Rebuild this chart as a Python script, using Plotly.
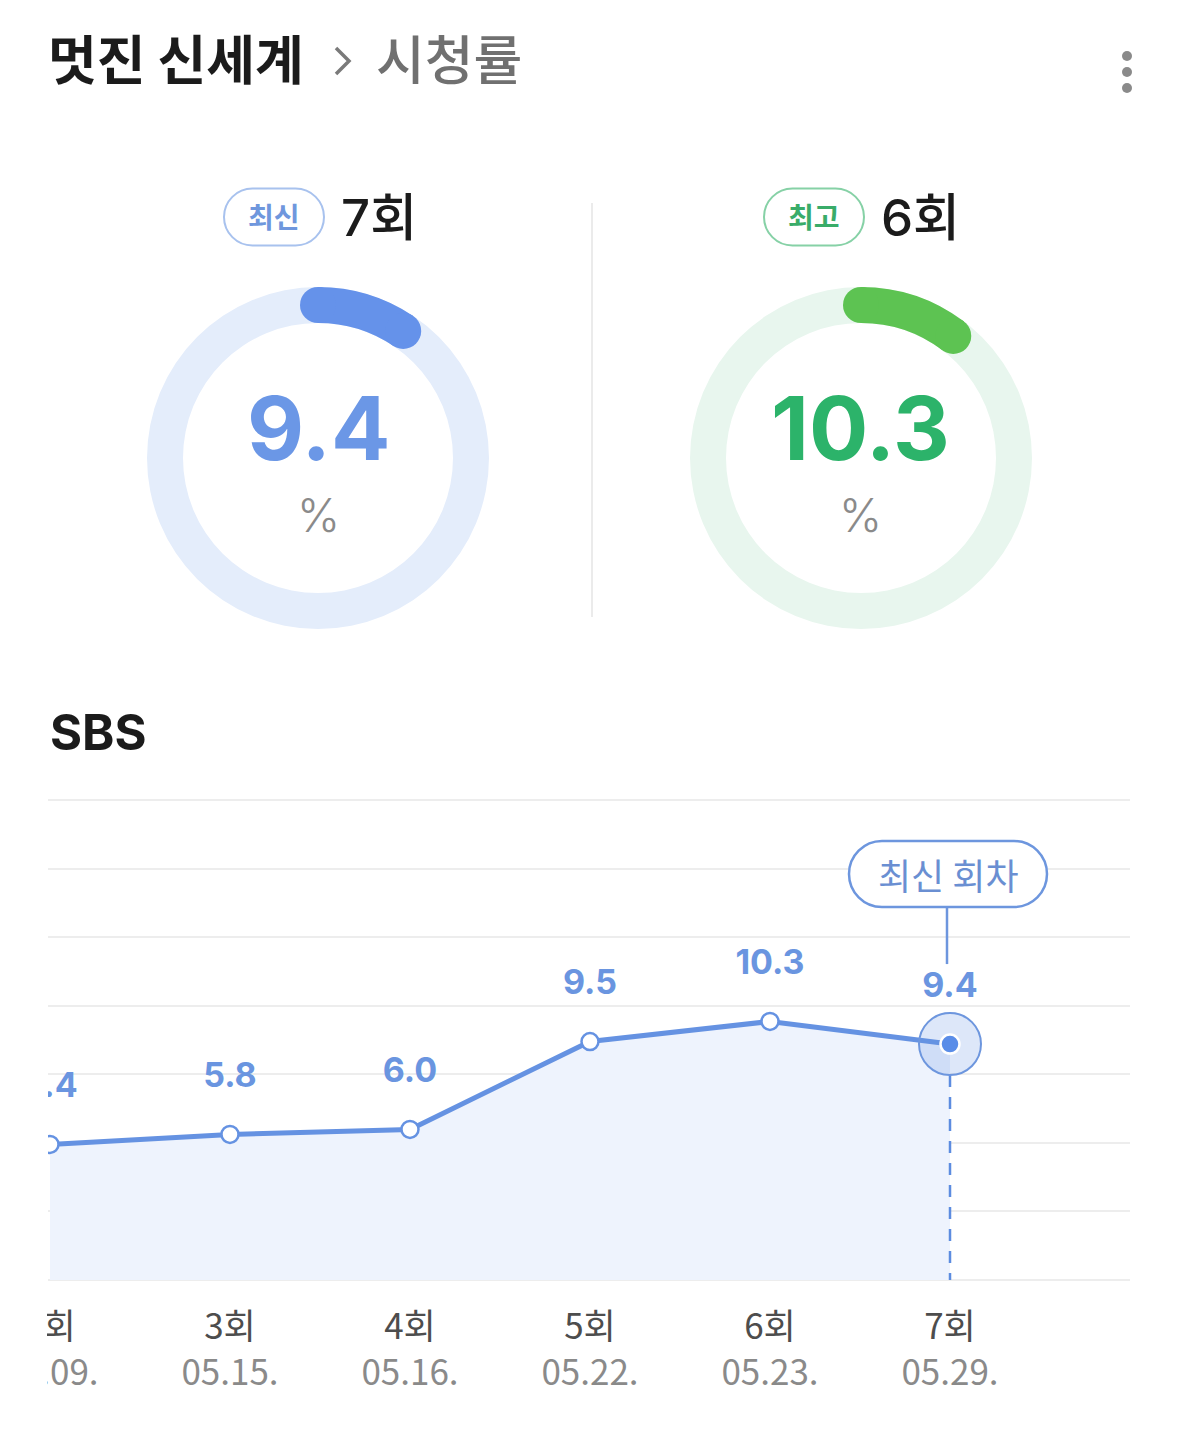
import plotly.graph_objects as go

W, H = 1179, 1438

# ---------------- data ----------------
episodes = [2, 3, 4, 5, 6, 7]
episode_labels = ["2회", "3회", "4회", "5회", "6회", "7회"]
air_dates = ["05.09.", "05.15.", "05.16.", "05.22.", "05.23.", "05.29."]
ratings = [5.4, 5.8, 6.0, 9.5, 10.3, 9.4]

title_main = "멋진 신세계"
title_sub = "시청률"
channel = "SBS"
badge_latest = "최신"
badge_best = "최고"
callout_text = "최신 회차"

latest_idx = len(ratings) - 1
best_idx = ratings.index(max(ratings))

# ---------------- style ----------------
KR = "Noto Sans CJK KR"
NUM = "Inter, Noto Sans CJK KR"
BLUE = "#6592E2"
BLUE_TXT = "#6A95E0"
BLUE_ARC = "#6592EA"
BLUE_RING = "#E4EDFB"
GREEN_TXT = "#2CB36A"
GREEN_ARC = "#5DC352"
GREEN_RING = "#E8F6EE"


def px(x):
    return x / W


def py(y):
    return 1 - y / H


def pill_path(cx, cy, w, h):
    """rounded pill path, pixel offsets (y up)"""
    r = h / 2
    k = 0.5523 * r
    xl, xr = cx - w / 2 + r, cx + w / 2 - r
    yt, yb = cy + r, cy - r
    return (f"M{xl},{yt} L{xr},{yt} "
            f"C{xr + k},{yt} {xr + r},{cy + k} {xr + r},{cy} "
            f"C{xr + r},{cy - k} {xr + k},{yb} {xr},{yb} "
            f"L{xl},{yb} "
            f"C{xl - k},{yb} {xl - r},{cy - k} {xl - r},{cy} "
            f"C{xl - r},{cy + k} {xl - k},{yt} {xl},{yt} Z")


fig = go.Figure()

# ---------------- gauges ----------------
RING_IN, RING_W = 0.75, 0.20
RING_MID = RING_IN + RING_W / 2
for sub, val, ring_c, arc_c in [("polar", ratings[latest_idx], BLUE_RING, BLUE_ARC),
                                ("polar2", ratings[best_idx], GREEN_RING, GREEN_ARC)]:
    ang = val * 3.6
    fig.add_trace(go.Barpolar(r=[RING_W], base=[RING_IN], theta=[180], width=[360],
                              marker=dict(color=ring_c, line=dict(width=0)),
                              subplot=sub, hoverinfo="skip", showlegend=False))
    fig.add_trace(go.Barpolar(r=[RING_W], base=[RING_IN], theta=[ang / 2], width=[ang],
                              marker=dict(color=arc_c, line=dict(width=0)),
                              subplot=sub, hoverinfo="skip", showlegend=False))
    fig.add_trace(go.Scatterpolar(r=[RING_MID, RING_MID], theta=[0, ang], mode="markers",
                                  marker=dict(size=36, color=arc_c, line=dict(width=0)),
                                  subplot=sub, hoverinfo="skip", showlegend=False))

polar_common = dict(
    bgcolor="rgba(0,0,0,0)",
    hole=0,
    radialaxis=dict(visible=False, range=[0, 1]),
    angularaxis=dict(visible=False, rotation=90, direction="clockwise"),
)

# ---------------- line chart ----------------
PXU = 25.1      # px per rating unit
HALO = 62       # halo diameter, px

fig.add_trace(go.Scatter(
    x=episodes, y=ratings, mode="lines+markers",
    fill="tozeroy", fillcolor="#EEF3FD",
    line=dict(color=BLUE, width=5),
    marker=dict(size=17, color="white", line=dict(color=BLUE, width=2.5)),
    cliponaxis=True, hoverinfo="skip", showlegend=False))

# dashed drop line for latest episode (starts under the halo)
fig.add_trace(go.Scatter(
    x=[episodes[latest_idx], episodes[latest_idx]],
    y=[ratings[latest_idx] - (HALO / 2) / PXU, 0],
    mode="lines", line=dict(color="#5C8CE0", width=2.5, dash="12px,10px"),
    hoverinfo="skip", showlegend=False))

# halo + dot for latest
fig.add_trace(go.Scatter(
    x=[episodes[latest_idx]], y=[ratings[latest_idx]], mode="markers",
    marker=dict(size=HALO, color="rgba(100,146,228,0.22)", line=dict(color="#6D96DE", width=2)),
    cliponaxis=False, hoverinfo="skip", showlegend=False))
fig.add_trace(go.Scatter(
    x=[episodes[latest_idx]], y=[ratings[latest_idx]], mode="markers",
    marker=dict(size=19, color="#5A8DE8", line=dict(color="white", width=2.5)),
    cliponaxis=False, hoverinfo="skip", showlegend=False))

# value labels
LABEL_OFF = 2.23
fig.add_trace(go.Scatter(
    x=episodes, y=[v + LABEL_OFF for v in ratings], mode="text",
    text=[f"{v:.1f}" for v in ratings], textposition="middle center",
    textfont=dict(family=NUM, size=34, color=BLUE_TXT, weight=700),
    cliponaxis=True, hoverinfo="skip", showlegend=False))

ticktext = [f"<span style='color:#4d4d4d'>{e}</span><br><span style='color:#8a8a8a'>{d}</span>"
            for e, d in zip(episode_labels, air_dates)]

GRID_STEP = 2.732
PAD = 0.08  # a few px of room so edge gridlines are drawn
fig.update_layout(
    width=W, height=H,
    margin=dict(l=0, r=0, t=0, b=0, autoexpand=False),
    paper_bgcolor="white", plot_bgcolor="white",
    showlegend=False,
    polar=dict(domain=dict(x=[px(138), px(498)], y=[py(638), py(278)]), **polar_common),
    polar2=dict(domain=dict(x=[px(681), px(1041)], y=[py(638), py(278)]), **polar_common),
    xaxis=dict(domain=[px(48), px(1130)], range=[1.989, 8.0],
               tickvals=episodes, ticktext=ticktext, ticks="",
               showgrid=False, zeroline=False, showline=False,
               tickfont=dict(family=KR, size=35), ticklabelstandoff=21,
               automargin=False, fixedrange=True),
    yaxis=dict(domain=[py(1280 + PAD * PXU), py(800 - PAD * PXU)],
               range=[-PAD, GRID_STEP * 7 + PAD],
               tickvals=[GRID_STEP * k for k in range(8)], showticklabels=False,
               gridcolor="#EDEDED", gridwidth=2, zeroline=False, showline=False,
               automargin=False, fixedrange=True),
)

shapes = []
# mask clipping first tick label at chart's left edge
shapes.append(dict(type="rect", xref="paper", yref="paper", x0=0, x1=px(47),
                   y0=py(1420), y1=py(1290), fillcolor="white", line=dict(width=0),
                   layer="above"))
# divider between gauges
shapes.append(dict(type="line", xref="paper", yref="paper", x0=px(592), x1=px(592),
                   y0=py(617), y1=py(203), line=dict(color="#EBEBEB", width=2)))
# three-dot menu
for yy in (56, 72, 88):
    shapes.append(dict(type="circle", xref="paper", yref="paper",
                       xsizemode="pixel", ysizemode="pixel",
                       xanchor=px(1127), yanchor=py(yy),
                       x0=-5, x1=5, y0=-5, y1=5,
                       fillcolor="#8A8A8A", line=dict(width=0)))
# breadcrumb chevron
shapes.append(dict(type="path", xref="paper", yref="paper",
                   xsizemode="pixel", ysizemode="pixel",
                   xanchor=px(336), yanchor=py(61),
                   path="M0,13 L13,0 L0,-13",
                   line=dict(color="#7A7A7A", width=3.5)))
# badges
shapes.append(dict(type="path", xref="paper", yref="paper",
                   xsizemode="pixel", ysizemode="pixel",
                   xanchor=px(274), yanchor=py(217),
                   path=pill_path(0, 0, 100, 57),
                   fillcolor="white", line=dict(color="#A8C2EE", width=2)))
shapes.append(dict(type="path", xref="paper", yref="paper",
                   xsizemode="pixel", ysizemode="pixel",
                   xanchor=px(814), yanchor=py(217),
                   path=pill_path(0, 0, 100, 57),
                   fillcolor="white", line=dict(color="#86D1A6", width=2)))
# callout pill and connector, anchored to the latest data point
lx, ly = episodes[latest_idx], ratings[latest_idx]
shapes.append(dict(type="path", xref="x", yref="y",
                   xsizemode="pixel", ysizemode="pixel",
                   xanchor=lx, yanchor=ly,
                   path=pill_path(-2, 170, 198, 66),
                   fillcolor="white", line=dict(color="#6D96DE", width=2.5)))
shapes.append(dict(type="line", xref="x", yref="y",
                   xsizemode="pixel", ysizemode="pixel",
                   xanchor=lx, yanchor=ly,
                   x0=-3, x1=-3, y0=137, y1=80,
                   line=dict(color="#6D96DE", width=2.5)))
fig.update_layout(shapes=shapes)

ann = []


def add_text(text, x, y, size, color, anchor="center", weight=400, family=KR):
    ann.append(dict(text=text, x=px(x), y=py(y), xref="paper", yref="paper",
                    xanchor=anchor, yanchor="middle", showarrow=False,
                    font=dict(family=family, size=size, color=color, weight=weight)))


add_text(title_main, 46, 57, 53, "#1B1B1B", "left", 700)
add_text(title_sub, 374, 57, 53, "#707070", "left", 500)
add_text(badge_latest, 274, 216, 28, "#6F97DD", "center", 700)
add_text(badge_best, 814, 216, 28, "#39AC69", "center", 700)
add_text(episode_labels[latest_idx], 339, 217, 51, "#1B1B1B", "left", 500, NUM)
add_text(episode_labels[best_idx], 879, 217, 51, "#1B1B1B", "left", 500, NUM)
add_text(f"{ratings[latest_idx]:.1f}", 318, 428, 88, "#6B97E6", "center", 700, NUM)
add_text(f"{ratings[best_idx]:.1f}", 860, 428, 88, GREEN_TXT, "center", 700, NUM)
add_text("%", 318, 515, 46, "#8A8A8A", "center", 300, NUM)
add_text("%", 860, 515, 46, "#8A8A8A", "center", 300, NUM)
add_text(channel, 48, 732, 49, "#1B1B1B", "left", 700, NUM)

ann.append(dict(text=callout_text, x=lx, y=ly, xref="x", yref="y", yshift=170, xshift=-2,
                xanchor="center", yanchor="middle", showarrow=False,
                font=dict(family=KR, size=36, color="#6A8FD2")))
fig.update_layout(annotations=ann)

fig.write_html("out.html", config={"displayModeBar": False},
               post_script="document.body.style.margin='0';")
